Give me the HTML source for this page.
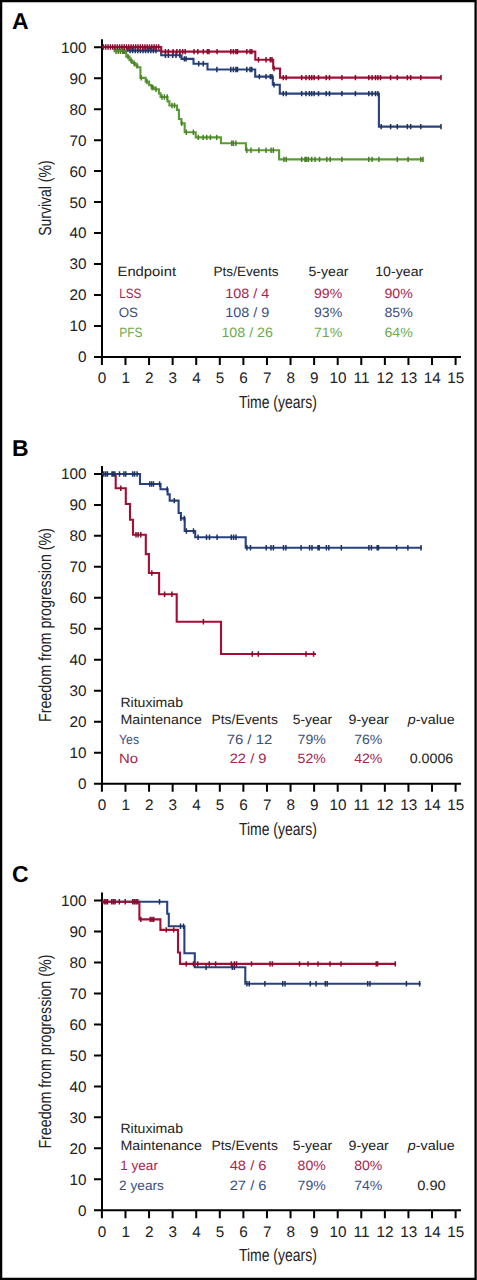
<!DOCTYPE html>
<html><head><meta charset="utf-8"><style>
html,body{margin:0;padding:0;background:#fff;}
body{width:477px;height:1280px;overflow:hidden;position:relative;}
svg{position:absolute;left:0;top:0;display:block;}
text{font-family:"Liberation Sans",sans-serif;text-rendering:geometricPrecision;}
.tk{font-size:15.3px;fill:#222;}
.lg{font-size:13.5px;fill:#222;}
.ax{font-size:17.5px;fill:#222;}
.pl{font-size:23px;font-weight:bold;fill:#000;}
</style></head><body>
<svg width="477" height="1280" viewBox="0 0 477 1280">
<rect x="0" y="0" width="477" height="1280" fill="#fff"/>

<path d="M1.1 1.1H475.6V1278.8H1.1Z" fill="none" stroke="#000" stroke-width="2.3"/>
<path d="M102 39.2V358M94 357H461M94 326.02H102M94 295.04H102M94 264.06H102M94 233.08H102M94 202.1H102M94 171.12H102M94 140.14H102M94 109.16H102M94 78.18H102M94 47.2H102M101.9 357V365M125.48 357V365M149.06 357V365M172.64 357V365M196.22 357V365M219.8 357V365M243.38 357V365M266.96 357V365M290.54 357V365M314.12 357V365M337.7 357V365M361.28 357V365M384.86 357V365M408.44 357V365M432.02 357V365M455.6 357V365" fill="none" stroke="#000" stroke-width="2"/>
<text x="86.6" y="362.4" text-anchor="end" class="tk">0</text>
<text x="86.6" y="331.42" text-anchor="end" class="tk">10</text>
<text x="86.6" y="300.44" text-anchor="end" class="tk">20</text>
<text x="86.6" y="269.46" text-anchor="end" class="tk">30</text>
<text x="86.6" y="238.48" text-anchor="end" class="tk">40</text>
<text x="86.6" y="207.5" text-anchor="end" class="tk">50</text>
<text x="86.6" y="176.52" text-anchor="end" class="tk">60</text>
<text x="86.6" y="145.54" text-anchor="end" class="tk">70</text>
<text x="86.6" y="114.56" text-anchor="end" class="tk">80</text>
<text x="86.6" y="83.58" text-anchor="end" class="tk">90</text>
<text x="86.6" y="52.6" text-anchor="end" class="tk">100</text>
<text x="102.1" y="383.4" text-anchor="middle" class="tk">0</text>
<text x="125.68" y="383.4" text-anchor="middle" class="tk">1</text>
<text x="149.26" y="383.4" text-anchor="middle" class="tk">2</text>
<text x="172.84" y="383.4" text-anchor="middle" class="tk">3</text>
<text x="196.42" y="383.4" text-anchor="middle" class="tk">4</text>
<text x="220" y="383.4" text-anchor="middle" class="tk">5</text>
<text x="243.58" y="383.4" text-anchor="middle" class="tk">6</text>
<text x="267.16" y="383.4" text-anchor="middle" class="tk">7</text>
<text x="290.74" y="383.4" text-anchor="middle" class="tk">8</text>
<text x="314.32" y="383.4" text-anchor="middle" class="tk">9</text>
<text x="337.9" y="383.4" text-anchor="middle" class="tk">10</text>
<text x="361.48" y="383.4" text-anchor="middle" class="tk">11</text>
<text x="385.06" y="383.4" text-anchor="middle" class="tk">12</text>
<text x="408.64" y="383.4" text-anchor="middle" class="tk">13</text>
<text x="432.22" y="383.4" text-anchor="middle" class="tk">14</text>
<text x="455.8" y="383.4" text-anchor="middle" class="tk">15</text>
<path d="M102 465.9V784.7M94 783.7H461M94 752.72H102M94 721.74H102M94 690.76H102M94 659.78H102M94 628.8H102M94 597.82H102M94 566.84H102M94 535.86H102M94 504.88H102M94 473.9H102M101.9 783.7V791.7M125.48 783.7V791.7M149.06 783.7V791.7M172.64 783.7V791.7M196.22 783.7V791.7M219.8 783.7V791.7M243.38 783.7V791.7M266.96 783.7V791.7M290.54 783.7V791.7M314.12 783.7V791.7M337.7 783.7V791.7M361.28 783.7V791.7M384.86 783.7V791.7M408.44 783.7V791.7M432.02 783.7V791.7M455.6 783.7V791.7" fill="none" stroke="#000" stroke-width="2"/>
<text x="86.6" y="789.1" text-anchor="end" class="tk">0</text>
<text x="86.6" y="758.12" text-anchor="end" class="tk">10</text>
<text x="86.6" y="727.14" text-anchor="end" class="tk">20</text>
<text x="86.6" y="696.16" text-anchor="end" class="tk">30</text>
<text x="86.6" y="665.18" text-anchor="end" class="tk">40</text>
<text x="86.6" y="634.2" text-anchor="end" class="tk">50</text>
<text x="86.6" y="603.22" text-anchor="end" class="tk">60</text>
<text x="86.6" y="572.24" text-anchor="end" class="tk">70</text>
<text x="86.6" y="541.26" text-anchor="end" class="tk">80</text>
<text x="86.6" y="510.28" text-anchor="end" class="tk">90</text>
<text x="86.6" y="479.3" text-anchor="end" class="tk">100</text>
<text x="102.1" y="810.1" text-anchor="middle" class="tk">0</text>
<text x="125.68" y="810.1" text-anchor="middle" class="tk">1</text>
<text x="149.26" y="810.1" text-anchor="middle" class="tk">2</text>
<text x="172.84" y="810.1" text-anchor="middle" class="tk">3</text>
<text x="196.42" y="810.1" text-anchor="middle" class="tk">4</text>
<text x="220" y="810.1" text-anchor="middle" class="tk">5</text>
<text x="243.58" y="810.1" text-anchor="middle" class="tk">6</text>
<text x="267.16" y="810.1" text-anchor="middle" class="tk">7</text>
<text x="290.74" y="810.1" text-anchor="middle" class="tk">8</text>
<text x="314.32" y="810.1" text-anchor="middle" class="tk">9</text>
<text x="337.9" y="810.1" text-anchor="middle" class="tk">10</text>
<text x="361.48" y="810.1" text-anchor="middle" class="tk">11</text>
<text x="385.06" y="810.1" text-anchor="middle" class="tk">12</text>
<text x="408.64" y="810.1" text-anchor="middle" class="tk">13</text>
<text x="432.22" y="810.1" text-anchor="middle" class="tk">14</text>
<text x="455.8" y="810.1" text-anchor="middle" class="tk">15</text>
<path d="M102 892.5V1211.3M94 1210.3H461M94 1179.32H102M94 1148.34H102M94 1117.36H102M94 1086.38H102M94 1055.4H102M94 1024.42H102M94 993.44H102M94 962.46H102M94 931.48H102M94 900.5H102M101.9 1210.3V1218.3M125.48 1210.3V1218.3M149.06 1210.3V1218.3M172.64 1210.3V1218.3M196.22 1210.3V1218.3M219.8 1210.3V1218.3M243.38 1210.3V1218.3M266.96 1210.3V1218.3M290.54 1210.3V1218.3M314.12 1210.3V1218.3M337.7 1210.3V1218.3M361.28 1210.3V1218.3M384.86 1210.3V1218.3M408.44 1210.3V1218.3M432.02 1210.3V1218.3M455.6 1210.3V1218.3" fill="none" stroke="#000" stroke-width="2"/>
<text x="86.6" y="1215.7" text-anchor="end" class="tk">0</text>
<text x="86.6" y="1184.72" text-anchor="end" class="tk">10</text>
<text x="86.6" y="1153.74" text-anchor="end" class="tk">20</text>
<text x="86.6" y="1122.76" text-anchor="end" class="tk">30</text>
<text x="86.6" y="1091.78" text-anchor="end" class="tk">40</text>
<text x="86.6" y="1060.8" text-anchor="end" class="tk">50</text>
<text x="86.6" y="1029.82" text-anchor="end" class="tk">60</text>
<text x="86.6" y="998.84" text-anchor="end" class="tk">70</text>
<text x="86.6" y="967.86" text-anchor="end" class="tk">80</text>
<text x="86.6" y="936.88" text-anchor="end" class="tk">90</text>
<text x="86.6" y="905.9" text-anchor="end" class="tk">100</text>
<text x="102.1" y="1236.7" text-anchor="middle" class="tk">0</text>
<text x="125.68" y="1236.7" text-anchor="middle" class="tk">1</text>
<text x="149.26" y="1236.7" text-anchor="middle" class="tk">2</text>
<text x="172.84" y="1236.7" text-anchor="middle" class="tk">3</text>
<text x="196.42" y="1236.7" text-anchor="middle" class="tk">4</text>
<text x="220" y="1236.7" text-anchor="middle" class="tk">5</text>
<text x="243.58" y="1236.7" text-anchor="middle" class="tk">6</text>
<text x="267.16" y="1236.7" text-anchor="middle" class="tk">7</text>
<text x="290.74" y="1236.7" text-anchor="middle" class="tk">8</text>
<text x="314.32" y="1236.7" text-anchor="middle" class="tk">9</text>
<text x="337.9" y="1236.7" text-anchor="middle" class="tk">10</text>
<text x="361.48" y="1236.7" text-anchor="middle" class="tk">11</text>
<text x="385.06" y="1236.7" text-anchor="middle" class="tk">12</text>
<text x="408.64" y="1236.7" text-anchor="middle" class="tk">13</text>
<text x="432.22" y="1236.7" text-anchor="middle" class="tk">14</text>
<text x="455.8" y="1236.7" text-anchor="middle" class="tk">15</text>
<path d="M101.9 47H114.5V51.2H126.3V56.6H129.5V60.2H132V63H135V65.5H137.5V67.2H140.4V77.9H145.7V81.6H149.1V85.1H151.5V87.6H154.5V89.2H158.9V93.4H160.5V97H167.5V101.4H169.4V105.5H177V109.9H178.9V119H181.4V123.4H184.7V132.3H195.7V137.4H220.9V143.3H245.9V150.2H279.1V159.4H423.2" fill="none" stroke="#5A9A33" stroke-width="2.1" stroke-linejoin="miter" stroke-linecap="butt"/>
<path d="M116 48.5v5.4M118.2 48.5v5.4M120.4 48.5v5.4M122.6 48.5v5.4M124.8 48.5v5.4M124.1 48.5v5.4M128 53.9v5.4M131 57.5v5.4M134 60.3v5.4M137 62.8v5.4M141.3 75.2v5.4M147 78.9v5.4M152 84.9v5.4M152.9 84.9v5.4M156 86.5v5.4M161.9 94.3v5.4M164.4 94.3v5.4M167.2 94.3v5.4M172 102.8v5.4M174.5 102.8v5.4M181.7 120.7v5.4M186.3 129.6v5.4M193.4 129.6v5.4M198.3 134.7v5.4M203.1 134.7v5.4M206.7 134.7v5.4M210.4 134.7v5.4M216.7 134.7v5.4M231.7 140.6v5.4M233.4 140.6v5.4M235.9 140.6v5.4M246.8 147.5v5.4M251 147.5v5.4M258.9 147.5v5.4M266 147.5v5.4M271.1 147.5v5.4M273.3 147.5v5.4M284 156.7v5.4M286.2 156.7v5.4M301.7 156.7v5.4M305 156.7v5.4M306.5 156.7v5.4M308.4 156.7v5.4M311.7 156.7v5.4M315.1 156.7v5.4M319.5 156.7v5.4M326.8 156.7v5.4M330.2 156.7v5.4M341.9 156.7v5.4M368.8 156.7v5.4M372.1 156.7v5.4M378.9 156.7v5.4M397.3 156.7v5.4M408.1 156.7v5.4M420.8 156.7v5.4M423 156.7v5.4" fill="none" stroke="#4A7F2A" stroke-width="1.5"/>
<path d="M101.9 47H127.5V50.6H161.2V55.2H181.5V58.9H193.5V63.7H207.5V69.5H255.2V76.6H272.8V84.8H279.8V93.6H378.9V126.6H441" fill="none" stroke="#28427F" stroke-width="2.1" stroke-linejoin="miter" stroke-linecap="butt"/>
<path d="M130 47.9v5.4M132.6 47.9v5.4M135.2 47.9v5.4M137.8 47.9v5.4M140.4 47.9v5.4M143 47.9v5.4M145.6 47.9v5.4M148.2 47.9v5.4M150.8 47.9v5.4M153.4 47.9v5.4M156 47.9v5.4M165.4 52.5v5.4M168.4 52.5v5.4M172.7 52.5v5.4M176 52.5v5.4M179.9 52.5v5.4M184.4 56.2v5.4M186.1 56.2v5.4M198.7 61v5.4M203.3 61v5.4M216.9 66.8v5.4M230.8 66.8v5.4M233.4 66.8v5.4M235.9 66.8v5.4M237.5 66.8v5.4M246.8 66.8v5.4M250.1 66.8v5.4M251.8 66.8v5.4M259.4 73.9v5.4M266 73.9v5.4M270.3 73.9v5.4M272 73.9v5.4M274 82.1v5.4M283.3 90.9v5.4M286.2 90.9v5.4M301.7 90.9v5.4M306 90.9v5.4M309.4 90.9v5.4M311.7 90.9v5.4M314.1 90.9v5.4M318.5 90.9v5.4M326.2 90.9v5.4M329.5 90.9v5.4M341.9 90.9v5.4M355.4 90.9v5.4M368.8 90.9v5.4M372.1 90.9v5.4M375.5 90.9v5.4M377.9 90.9v5.4M381.2 123.9v5.4M390.6 123.9v5.4M397.3 123.9v5.4M407.4 123.9v5.4M410.7 123.9v5.4M420.8 123.9v5.4M441 123.9v5.4" fill="none" stroke="#1E325F" stroke-width="1.5"/>
<path d="M101.9 47H161.2V51.6H255.3V59.7H273.2V68.5H280V77.6H441" fill="none" stroke="#A60D35" stroke-width="2.1" stroke-linejoin="miter" stroke-linecap="butt"/>
<path d="M103.5 44.3v5.4M105.8 44.3v5.4M108.1 44.3v5.4M110.4 44.3v5.4M112.7 44.3v5.4M115 44.3v5.4M117.3 44.3v5.4M119.6 44.3v5.4M121.9 44.3v5.4M124.2 44.3v5.4M126.5 44.3v5.4M128.8 44.3v5.4M131.1 44.3v5.4M133.4 44.3v5.4M135.7 44.3v5.4M138 44.3v5.4M140.3 44.3v5.4M142.6 44.3v5.4M144.9 44.3v5.4M147.2 44.3v5.4M149.5 44.3v5.4M151.8 44.3v5.4M154.1 44.3v5.4M156.4 44.3v5.4M158.7 44.3v5.4M165.4 48.9v5.4M168.4 48.9v5.4M173.1 48.9v5.4M176.8 48.9v5.4M179.9 48.9v5.4M182.7 48.9v5.4M185.2 48.9v5.4M194 48.9v5.4M197.8 48.9v5.4M203.3 48.9v5.4M207.4 48.9v5.4M209 48.9v5.4M217.1 48.9v5.4M230.8 48.9v5.4M233.4 48.9v5.4M235.9 48.9v5.4M237.5 48.9v5.4M246.8 48.9v5.4M250.1 48.9v5.4M251.8 48.9v5.4M258.5 57v5.4M266 57v5.4M270.3 57v5.4M272 57v5.4M274 65.8v5.4M283.3 74.9v5.4M286.2 74.9v5.4M301.7 74.9v5.4M306 74.9v5.4M309.4 74.9v5.4M311.7 74.9v5.4M314.1 74.9v5.4M318.5 74.9v5.4M326.2 74.9v5.4M329.5 74.9v5.4M341.9 74.9v5.4M355.4 74.9v5.4M368.8 74.9v5.4M372.1 74.9v5.4M375.5 74.9v5.4M377.9 74.9v5.4M380.5 74.9v5.4M390.6 74.9v5.4M397.3 74.9v5.4M407.4 74.9v5.4M410.7 74.9v5.4M420.8 74.9v5.4M441 74.9v5.4" fill="none" stroke="#850C30" stroke-width="1.5"/>
<path d="M101.9 474H115.7V488.3H125.8V504H130V519.7H133V534.7H145.8V554.1H148.9V573H159.1V594.2H176.7V621.7H221V654H316" fill="none" stroke="#A60D35" stroke-width="2.1" stroke-linejoin="miter" stroke-linecap="butt"/>
<path d="M120.8 485.6v5.4M136 532v5.4M138.1 532v5.4M140.8 532v5.4M151.8 570.3v5.4M164.6 591.5v5.4M171.9 591.5v5.4M203.4 619v5.4M252.3 651.3v5.4M258.3 651.3v5.4M306 651.3v5.4M313.6 651.3v5.4" fill="none" stroke="#850C30" stroke-width="1.5"/>
<path d="M101.9 474H140V484H160.5V489.3H167.6V494.4H169.7V500.6H178.6V513H180.9V518.4H184.7V531H195.2V537.3H245.7V547.8H421.8" fill="none" stroke="#28427F" stroke-width="2.1" stroke-linejoin="miter" stroke-linecap="butt"/>
<path d="M103.8 471.3v5.4M105.7 471.3v5.4M107.5 471.3v5.4M112 471.3v5.4M113.2 471.3v5.4M114.8 471.3v5.4M119.5 471.3v5.4M123.9 471.3v5.4M125.8 471.3v5.4M132.7 471.3v5.4M134.6 471.3v5.4M137.1 471.3v5.4M149.7 481.3v5.4M151.6 481.3v5.4M153.5 481.3v5.4M159.6 481.3v5.4M167.2 486.6v5.4M174.3 497.9v5.4M180.9 515.7v5.4M184.3 515.7v5.4M186.4 528.3v5.4M193.5 528.3v5.4M198.1 534.6v5.4M206.5 534.6v5.4M209.5 534.6v5.4M217.1 534.6v5.4M231.3 534.6v5.4M233.6 534.6v5.4M236 534.6v5.4M246.9 545.1v5.4M250.5 545.1v5.4M266.2 545.1v5.4M271 545.1v5.4M273.4 545.1v5.4M283.5 545.1v5.4M285.9 545.1v5.4M301.1 545.1v5.4M309.6 545.1v5.4M312 545.1v5.4M318 545.1v5.4M319.2 545.1v5.4M326.4 545.1v5.4M328.8 545.1v5.4M341.3 545.1v5.4M368.9 545.1v5.4M371.4 545.1v5.4M377.2 545.1v5.4M378.5 545.1v5.4M396.6 545.1v5.4M407.9 545.1v5.4M421 545.1v5.4" fill="none" stroke="#1E325F" stroke-width="1.5"/>
<path d="M101.9 901.7H167.2V913.7H168.8V926.2H184.4V953.3H194.8V967.2H245.3V983.8H420.7" fill="none" stroke="#28427F" stroke-width="2.1" stroke-linejoin="miter" stroke-linecap="butt"/>
<path d="M159.5 899v5.4M180.5 923.5v5.4M183.5 923.5v5.4M206.1 964.5v5.4M232.3 964.5v5.4M234.4 964.5v5.4M246.9 981.1v5.4M249.2 981.1v5.4M264.9 981.1v5.4M282.7 981.1v5.4M285 981.1v5.4M310.3 981.1v5.4M316.1 981.1v5.4M325.3 981.1v5.4M327.2 981.1v5.4M367.7 981.1v5.4M370 981.1v5.4M406.4 981.1v5.4M419.6 981.1v5.4" fill="none" stroke="#1E325F" stroke-width="1.5"/>
<path d="M101.9 901.7H139.4V919.4H160.4V929.9H178V952.5H180V963.9H395.8" fill="none" stroke="#A60D35" stroke-width="2.1" stroke-linejoin="miter" stroke-linecap="butt"/>
<path d="M104.2 899v5.4M105.9 899v5.4M107.5 899v5.4M111.7 899v5.4M113.4 899v5.4M115.1 899v5.4M119.3 899v5.4M125.2 899v5.4M132.7 899v5.4M134.4 899v5.4M136.1 899v5.4M137.7 899v5.4M140.8 916.7v5.4M150.3 916.7v5.4M152 916.7v5.4M153.7 916.7v5.4M166.3 927.2v5.4M173.7 927.2v5.4M186.2 961.2v5.4M193.5 961.2v5.4M197.7 961.2v5.4M209.3 961.2v5.4M215.6 961.2v5.4M231.3 961.2v5.4M234.4 961.2v5.4M236.5 961.2v5.4M251.5 961.2v5.4M270 961.2v5.4M272.3 961.2v5.4M299.5 961.2v5.4M308 961.2v5.4M318 961.2v5.4M330 961.2v5.4M341 961.2v5.4M376.2 961.2v5.4M377.6 961.2v5.4M395.3 961.2v5.4" fill="none" stroke="#850C30" stroke-width="1.5"/>
<text x="20.4" y="28.9" text-anchor="middle" class="pl">A</text>
<text x="20.4" y="455.6" text-anchor="middle" class="pl">B</text>
<text x="20.4" y="882.2" text-anchor="middle" class="pl">C</text>
<text x="277.9" y="407.8" text-anchor="middle" class="ax" textLength="78" lengthAdjust="spacingAndGlyphs">Time (years)</text>
<text x="277.9" y="834.5" text-anchor="middle" class="ax" textLength="78" lengthAdjust="spacingAndGlyphs">Time (years)</text>
<text x="277.9" y="1261.1" text-anchor="middle" class="ax" textLength="78" lengthAdjust="spacingAndGlyphs">Time (years)</text>
<text x="0" y="0" text-anchor="middle" class="ax" textLength="75.5" lengthAdjust="spacingAndGlyphs" transform="translate(50.8 198.1) rotate(-90)">Survival (%)</text>
<text x="0" y="0" text-anchor="middle" class="ax" textLength="194" lengthAdjust="spacingAndGlyphs" transform="translate(50.8 625) rotate(-90)">Freedom from progression (%)</text>
<text x="0" y="0" text-anchor="middle" class="ax" textLength="194" lengthAdjust="spacingAndGlyphs" transform="translate(50.8 1051.6) rotate(-90)">Freedom from progression (%)</text>
<text x="146.75" y="275.8" text-anchor="middle" class="lg" textLength="58.5" lengthAdjust="spacingAndGlyphs">Endpoint</text>
<text x="246" y="275.8" text-anchor="middle" class="lg" textLength="65" lengthAdjust="spacingAndGlyphs">Pts/Events</text>
<text x="328.5" y="275.8" text-anchor="middle" class="lg" textLength="40.2" lengthAdjust="spacingAndGlyphs">5-year</text>
<text x="399.25" y="275.8" text-anchor="middle" class="lg" textLength="48.1" lengthAdjust="spacingAndGlyphs">10-year</text>
<text x="130.25" y="297.8" text-anchor="middle" class="lg" style="fill:#A5244E" textLength="22.1" lengthAdjust="spacingAndGlyphs">LSS</text>
<text x="247.2" y="297.8" text-anchor="middle" class="lg" style="fill:#A5244E" textLength="44" lengthAdjust="spacingAndGlyphs">108 / 4</text>
<text x="328.1" y="297.8" text-anchor="middle" class="lg" style="fill:#A5244E" textLength="28.2" lengthAdjust="spacingAndGlyphs">99%</text>
<text x="398.65" y="297.8" text-anchor="middle" class="lg" style="fill:#A5244E" textLength="28.3" lengthAdjust="spacingAndGlyphs">90%</text>
<text x="128.35" y="317.45" text-anchor="middle" class="lg" style="fill:#3A4F80" textLength="19.3" lengthAdjust="spacingAndGlyphs">OS</text>
<text x="247.2" y="317.45" text-anchor="middle" class="lg" style="fill:#3A4F80" textLength="44" lengthAdjust="spacingAndGlyphs">108 / 9</text>
<text x="328.1" y="317.45" text-anchor="middle" class="lg" style="fill:#3A4F80" textLength="28.2" lengthAdjust="spacingAndGlyphs">93%</text>
<text x="398.65" y="317.45" text-anchor="middle" class="lg" style="fill:#3A4F80" textLength="28.3" lengthAdjust="spacingAndGlyphs">85%</text>
<text x="130.85" y="337.1" text-anchor="middle" class="lg" style="fill:#6EAA4C" textLength="23.3" lengthAdjust="spacingAndGlyphs">PFS</text>
<text x="247.2" y="337.1" text-anchor="middle" class="lg" style="fill:#6EAA4C" textLength="51.6" lengthAdjust="spacingAndGlyphs">108 / 26</text>
<text x="328.1" y="337.1" text-anchor="middle" class="lg" style="fill:#6EAA4C" textLength="28.2" lengthAdjust="spacingAndGlyphs">71%</text>
<text x="398.65" y="337.1" text-anchor="middle" class="lg" style="fill:#6EAA4C" textLength="28.3" lengthAdjust="spacingAndGlyphs">64%</text>
<text x="151.7" y="706.8" text-anchor="middle" class="lg" textLength="62.6" lengthAdjust="spacingAndGlyphs">Rituximab</text>
<text x="161.15" y="723.5" text-anchor="middle" class="lg" textLength="81.5" lengthAdjust="spacingAndGlyphs">Maintenance</text>
<text x="244.7" y="723.5" text-anchor="middle" class="lg" textLength="66.4" lengthAdjust="spacingAndGlyphs">Pts/Events</text>
<text x="312.45" y="723.5" text-anchor="middle" class="lg" textLength="39.5" lengthAdjust="spacingAndGlyphs">5-year</text>
<text x="368.65" y="723.5" text-anchor="middle" class="lg" textLength="40.3" lengthAdjust="spacingAndGlyphs">9-year</text>
<text x="407.8" y="723.5" class="lg" textLength="47" lengthAdjust="spacingAndGlyphs"><tspan font-style="italic">p</tspan>-value</text>
<text x="129.05" y="743.5" text-anchor="middle" class="lg" style="fill:#3A4F80" textLength="19.9" lengthAdjust="spacingAndGlyphs">Yes</text>
<text x="249.45" y="743.5" text-anchor="middle" class="lg" style="fill:#3A4F80" textLength="45.5" lengthAdjust="spacingAndGlyphs">76 / 12</text>
<text x="311.7" y="743.5" text-anchor="middle" class="lg" style="fill:#3A4F80" textLength="28.2" lengthAdjust="spacingAndGlyphs">79%</text>
<text x="368.3" y="743.5" text-anchor="middle" class="lg" style="fill:#3A4F80" textLength="28.2" lengthAdjust="spacingAndGlyphs">76%</text>
<text x="128.6" y="763.4" text-anchor="middle" class="lg" style="fill:#A5244E" textLength="19" lengthAdjust="spacingAndGlyphs">No</text>
<text x="248.1" y="763.4" text-anchor="middle" class="lg" style="fill:#A5244E" textLength="36.8" lengthAdjust="spacingAndGlyphs">22 / 9</text>
<text x="311.7" y="763.4" text-anchor="middle" class="lg" style="fill:#A5244E" textLength="28.2" lengthAdjust="spacingAndGlyphs">52%</text>
<text x="368.3" y="763.4" text-anchor="middle" class="lg" style="fill:#A5244E" textLength="28.2" lengthAdjust="spacingAndGlyphs">42%</text>
<text x="431.5" y="763.4" text-anchor="middle" class="lg" textLength="43.6" lengthAdjust="spacingAndGlyphs">0.0006</text>
<text x="151.7" y="1133.4" text-anchor="middle" class="lg" textLength="62.6" lengthAdjust="spacingAndGlyphs">Rituximab</text>
<text x="161.15" y="1150.1" text-anchor="middle" class="lg" textLength="81.5" lengthAdjust="spacingAndGlyphs">Maintenance</text>
<text x="244.7" y="1150.1" text-anchor="middle" class="lg" textLength="66.4" lengthAdjust="spacingAndGlyphs">Pts/Events</text>
<text x="312.45" y="1150.1" text-anchor="middle" class="lg" textLength="39.5" lengthAdjust="spacingAndGlyphs">5-year</text>
<text x="368.65" y="1150.1" text-anchor="middle" class="lg" textLength="40.3" lengthAdjust="spacingAndGlyphs">9-year</text>
<text x="407.8" y="1150.1" class="lg" textLength="47" lengthAdjust="spacingAndGlyphs"><tspan font-style="italic">p</tspan>-value</text>
<text x="139.1" y="1170.1" text-anchor="middle" class="lg" style="fill:#A5244E" textLength="37.6" lengthAdjust="spacingAndGlyphs">1 year</text>
<text x="248.1" y="1170.1" text-anchor="middle" class="lg" style="fill:#A5244E" textLength="36.8" lengthAdjust="spacingAndGlyphs">48 / 6</text>
<text x="311.7" y="1170.1" text-anchor="middle" class="lg" style="fill:#A5244E" textLength="28.2" lengthAdjust="spacingAndGlyphs">80%</text>
<text x="368.3" y="1170.1" text-anchor="middle" class="lg" style="fill:#A5244E" textLength="28.2" lengthAdjust="spacingAndGlyphs">80%</text>
<text x="141.5" y="1190" text-anchor="middle" class="lg" style="fill:#3A4F80" textLength="44.8" lengthAdjust="spacingAndGlyphs">2 years</text>
<text x="248.1" y="1190" text-anchor="middle" class="lg" style="fill:#3A4F80" textLength="36.8" lengthAdjust="spacingAndGlyphs">27 / 6</text>
<text x="311.7" y="1190" text-anchor="middle" class="lg" style="fill:#3A4F80" textLength="28.2" lengthAdjust="spacingAndGlyphs">79%</text>
<text x="368.3" y="1190" text-anchor="middle" class="lg" style="fill:#3A4F80" textLength="28.2" lengthAdjust="spacingAndGlyphs">74%</text>
<text x="431.5" y="1190" text-anchor="middle" class="lg" textLength="28.6" lengthAdjust="spacingAndGlyphs">0.90</text>
</svg>
</body></html>
